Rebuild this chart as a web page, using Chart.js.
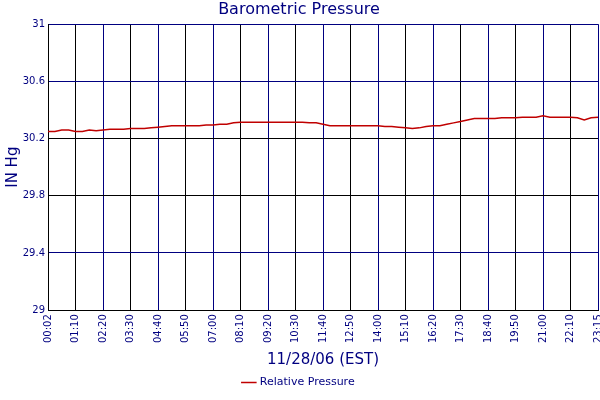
<!DOCTYPE html><html><head><script src="https://cdn.jsdelivr.net/npm/chart.js@4"></script>
<style>body{margin:0;background:#fff}#w{width:600px;height:400px}</style></head><body><div id="w"><canvas id="c"></canvas></div>
<script>
const tickLabels=["00:02","01:10","02:20","03:30","04:40","05:50","07:00","08:10","09:20","10:30","11:40","12:50","14:00","15:10","16:20","17:30","18:40","19:50","21:00","22:10","23:15"];
const pressure=[30.25,30.25,30.26,30.26,30.25,30.25,30.26,30.255,30.26,30.265,30.265,30.265,30.27,30.27,30.27,30.275,30.28,30.285,30.29,30.29,30.29,30.29,30.29,30.295,30.295,30.30,30.30,30.31,30.315,30.315,30.315,30.315,30.315,30.315,30.315,30.315,30.315,30.315,30.31,30.31,30.30,30.29,30.29,30.29,30.29,30.29,30.29,30.29,30.29,30.285,30.285,30.28,30.275,30.27,30.275,30.285,30.29,30.29,30.30,30.31,30.32,30.33,30.34,30.34,30.34,30.34,30.345,30.345,30.345,30.35,30.35,30.35,30.36,30.35,30.35,30.35,30.35,30.345,30.33,30.345,30.35];
const labels=pressure.map((v,i)=>i%4===0?tickLabels[i/4]:"");
const navy="#000080";
new Chart(document.getElementById('c'),{type:'line',
data:{labels,datasets:[{label:'Relative Pressure',data:pressure,borderColor:'#c00000',backgroundColor:'#c00000',borderWidth:1.5,pointRadius:0,tension:0}]},
options:{responsive:true,maintainAspectRatio:false,animation:false,
layout:{padding:{left:0,right:2,top:0,bottom:2}},
plugins:{title:{display:true,text:'Barometric Pressure',color:navy,font:{family:'DejaVu Sans',size:16,weight:'normal'},padding:{top:0,bottom:5}},
legend:{position:'bottom',labels:{color:navy,font:{family:'DejaVu Sans',size:11},usePointStyle:true,pointStyle:'line',boxWidth:30,padding:4}},tooltip:{enabled:false}},
scales:{
x:{offset:false,border:{color:'#000'},afterFit:a=>{a.paddingRight=0;a.paddingLeft=0},
 grid:{color:c=>c.index%4!==0?'rgba(0,0,0,0)':((c.index/4)%2===1?'#000':navy),lineWidth:1,drawTicks:false},
 ticks:{autoSkip:false,maxRotation:90,minRotation:90,color:navy,font:{family:'DejaVu Sans',size:10},padding:4},
 title:{display:true,text:'11/28/06 (EST)',color:navy,font:{family:'DejaVu Sans',size:15},padding:{top:4,bottom:4}}},
y:{min:29,max:31,border:{color:'#000'},afterFit:a=>{a.width=48;a.paddingTop=0},
 ticks:{stepSize:0.4,color:navy,font:{family:'DejaVu Sans',size:10},callback:v=>+v.toFixed(1)},
 grid:{color:c=>{const v=+c.tick.value.toFixed(1);return (v===30.2||v===29.8)?'#000':navy},drawTicks:false},
 title:{display:true,text:'IN Hg',color:navy,font:{family:'DejaVu Sans',size:15},padding:{bottom:2}}}}}});
</script></body></html>
